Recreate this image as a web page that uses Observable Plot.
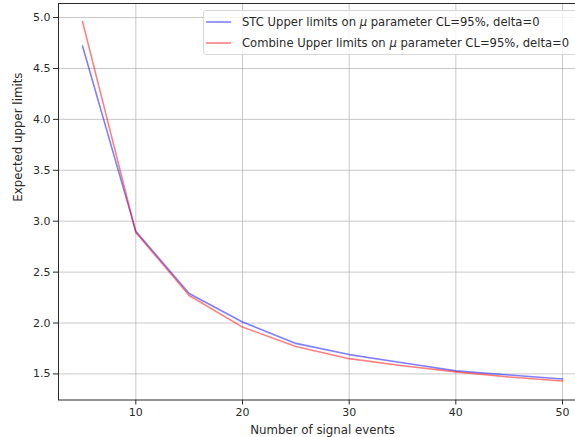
<!DOCTYPE html>
<html>
<head>
<meta charset="utf-8">
<script src="https://cdn.jsdelivr.net/npm/d3@7"></script>
<script src="https://cdn.jsdelivr.net/npm/@observablehq/plot@0.6"></script>
<style>
  html, body { margin: 0; padding: 0; background: #fff; }
  #wrap { position: relative; width: 575px; height: 437px; overflow: hidden; font-family: "DejaVu Sans", sans-serif; }
  #wrap svg { max-width: none !important; }
  #legend { position: absolute; left: 203px; top: 10px; width: 390px; height: 45px; box-sizing: border-box;
    border: 1px solid #d8d8d8; border-radius: 3px; background: rgba(255,255,255,0.8);
    font-size: 11.6px; color: #2a2a2a; }
  .row { position: absolute; left: 0; height: 14px; white-space: nowrap; }
  .row svg { position: absolute; left: 2px; top: 0; }
  .row span { position: absolute; left: 38px; top: 0; line-height: 14px; }
</style>
</head>
<body>
<div id="wrap"></div>
<script>
const signalEvents = [5, 10, 15, 20, 25, 30, 35, 40, 45, 50];
const stcLimits = [4.72, 2.90, 2.29, 2.01, 1.80, 1.69, 1.61, 1.53, 1.49, 1.45];
const combineLimits = [4.96, 2.89, 2.27, 1.96, 1.77, 1.65, 1.58, 1.52, 1.47, 1.43];
const seriesNames = ["STC Upper limits on μ parameter CL=95%, delta=0", "Combine Upper limits on μ parameter CL=95%, delta=0"];
const seriesColors = ["blue", "red"];
const xTicks = [10, 20, 30, 40, 50];
const yTicks = [1.5, 2.0, 2.5, 3.0, 3.5, 4.0, 4.5, 5.0];
const xLabel = "Number of signal events";
const yLabel = "Expected upper limits";

const rows = [];
signalEvents.forEach((x, i) => rows.push({x, y: stcLimits[i], s: seriesNames[0]}));
signalEvents.forEach((x, i) => rows.push({x, y: combineLimits[i], s: seriesNames[1]}));

const chart = Plot.plot({
  width: 587,
  height: 437,
  marginLeft: 58,
  marginRight: 1,
  marginTop: 3,
  marginBottom: 37.5,
  style: {fontFamily: "DejaVu Sans, sans-serif", fontSize: "11px", color: "#2a2a2a", background: "white"},
  x: {domain: [2.75, 52.25], ticks: xTicks, tickSize: 5, tickPadding: 3, label: null},
  y: {domain: [1.244, 5.138], ticks: yTicks, tickFormat: d3.format(".1f"), tickSize: 5, tickPadding: 3, label: null},
  color: {domain: seriesNames, range: seriesColors},
  marks: [
    Plot.gridX(xTicks, {stroke: "#b0b0b0", strokeOpacity: 0.7, strokeWidth: 1}),
    Plot.gridY(yTicks, {stroke: "#b0b0b0", strokeOpacity: 0.7, strokeWidth: 1}),
    Plot.line(rows, {x: "x", y: "y", z: "s", stroke: "s", strokeOpacity: 0.5, strokeWidth: 1.6}),
    Plot.frame({stroke: "#2a2a2a", strokeWidth: 1}),
    Plot.text([xLabel], {frameAnchor: "bottom", dy: 30, lineAnchor: "middle", fontSize: 11.8, text: d => d}),
    Plot.text([yLabel], {frameAnchor: "left", dx: -40, rotate: -90, lineAnchor: "middle", fontSize: 11.8, text: d => d})
  ]
});
chart.style.maxWidth = "none";
const wrap = document.getElementById("wrap");
wrap.appendChild(chart);

const legend = document.createElement("div");
legend.id = "legend";
seriesNames.forEach((name, i) => {
  const row = document.createElement("div");
  row.className = "row";
  row.style.top = (4 + i * 21) + "px";
  row.innerHTML = `<svg width="30" height="14"><line x1="0" x2="25" y1="7" y2="7" stroke="${seriesColors[i]}" stroke-opacity="0.5" stroke-width="1.6"/></svg>`;
  const span = document.createElement("span");
  const parts = name.split("μ");
  span.append(parts[0]);
  const mu = document.createElement("i");
  mu.textContent = "μ";
  span.append(mu, parts[1]);
  row.appendChild(span);
  legend.appendChild(row);
});
wrap.appendChild(legend);
</script>
</body>
</html>
